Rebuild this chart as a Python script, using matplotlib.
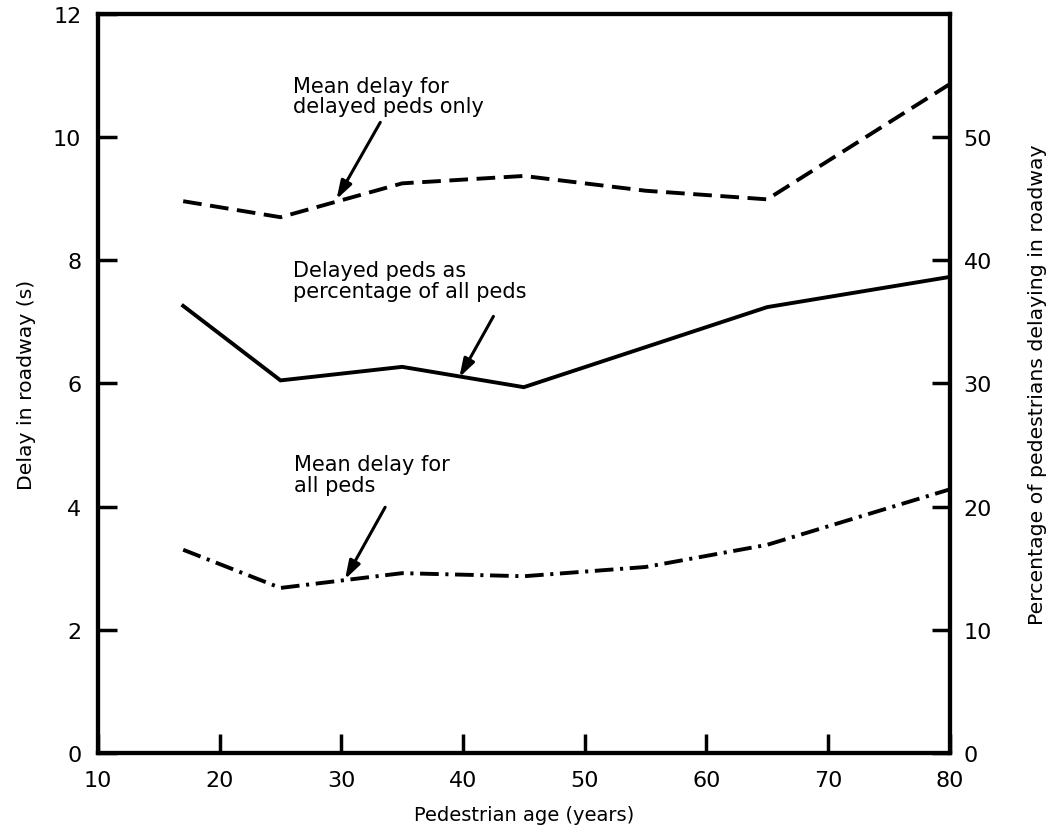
import numpy as np
import matplotlib.pyplot as plt

import matplotlib
matplotlib.rcParams['font.family'] = 'DejaVu Sans'

# pedestrian age (years)
age = [17, 25, 35, 45, 55, 65, 80]

# mean delay for delayed peds only (s)
delay_delayed = [8.96, 8.70, 9.25, 9.37, 9.13, 8.99, 10.86]
# delayed peds as percentage of all peds (left-axis units, x5 = %)
pct_delayed = [7.26, 6.05, 6.27, 5.94, 6.59, 7.24, 7.73]
# mean delay for all peds (s)
delay_all = [3.30, 2.68, 2.92, 2.87, 3.02, 3.38, 4.28]

x_ticks = [10, 20, 30, 40, 50, 60, 70, 80]
left_ticks = [0, 2, 4, 6, 8, 10, 12]
right_ticks = [0, 10, 20, 30, 40, 50]


fig = plt.figure(figsize=(10.54, 8.28), dpi=100)
ax = fig.add_axes([0.093, 0.0894, 0.808, 0.8925])

ax.plot(age, delay_delayed, color='black', lw=2.8, dashes=(4.8, 2.2))
ax.plot(age, pct_delayed, color='black', lw=2.8, solid_joinstyle='miter')
ax.plot(age, delay_all, color='black', lw=2.8, dashes=(4.8, 1.7, 0.8, 1.7))

ax.set_xlim(10, 80)
ax.set_ylim(0, 12)
ax.set_xticks(x_ticks)
ax.set_yticks(left_ticks)
ax.tick_params(direction='in', length=14, width=2.5, labelsize=16, pad=12,
               top=False, right=False)
for s in ax.spines.values():
    s.set_linewidth(3)

ax.set_xlabel("Pedestrian age (years)", fontsize=14, labelpad=11)
ax.set_ylabel("Delay in roadway (s)", fontsize=14.7, labelpad=12)

ax2 = ax.twinx()
ax2.set_ylim(0, 60)
ax2.set_yticks(right_ticks)
ax2.tick_params(direction='in', length=13, width=2.5, labelsize=16, pad=10)
ax2.set_ylabel("Percentage of pedestrians delaying in roadway", fontsize=14.7,
               labelpad=26)
for s in ax2.spines.values():
    s.set_linewidth(3)

arrow = dict(arrowstyle='-|>,head_length=1.1,head_width=0.35', color='black',
             lw=2.2, shrinkA=0, shrinkB=0)
note = dict(fontsize=15, ha='left', va='top', linespacing=1.05)

ax.text(26.0, 11.0, "Mean delay for\ndelayed peds only", **note)
ax.annotate("", xy=(29.6, 8.99), xytext=(33.2, 10.24), arrowprops=arrow)

ax.text(26.0, 8.0, "Delayed peds as\npercentage of all peds", **note)
ax.annotate("", xy=(39.7, 6.10), xytext=(42.5, 7.09), arrowprops=arrow)

ax.text(26.1, 4.85, "Mean delay for\nall peds", **note)
ax.annotate("", xy=(30.3, 2.82), xytext=(33.6, 3.99), arrowprops=arrow)

plt.savefig("out.png", dpi=100)
